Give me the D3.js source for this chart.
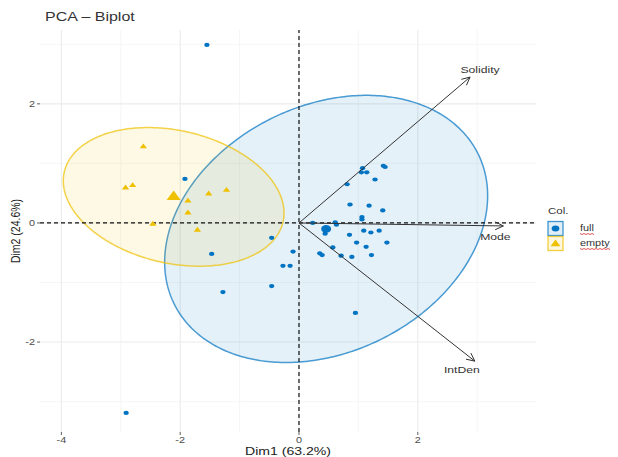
<!DOCTYPE html>
<html>
<head>
<meta charset="utf-8">
<script src="https://cdn.jsdelivr.net/npm/d3@7"></script>
<style>
  html, body { margin: 0; padding: 0; background: #fff; }
  svg { display: block; font-family: "Liberation Sans", Arial, Helvetica, sans-serif; }
</style>
</head>
<body>
<svg id="chart" width="618" height="457"></svg>
<script>
// Individuals (PCA scores), by group
const fullDim1 = [-1.55, -2.91, -1.92, -1.47, -0.46, -0.10, -0.27, -0.15, -1.28, -0.46,
                  0.95, 0.35, 0.39, 0.57, 0.71, 0.89, 0.97, 1.13, 1.22, 1.07,
                  1.14, 1.05, 1.42, 1.45, 1.28, 0.81, 0.86, 1.18, 1.41, 1.06,
                  1.06, 0.61, 0.63, 0.23, 0.44, 0.85, 1.09, 1.21, 1.35, 1.48];
const fullDim2 = [2.99, -3.19, 0.74, -0.52, -0.25, -0.48, -0.72, -0.72, -1.16, -1.06,
                  -1.51, -0.51, -0.54, -0.41, -0.55, -0.57, -0.33, -0.40, -0.54, 0.92,
                  0.85, 0.85, 0.96, 0.94, 0.73, 0.65, 0.31, 0.29, 0.21, 0.10,
                  0.06, 0.01, -0.03, 0.00, -0.18, -0.20, -0.13, -0.16, -0.13, -0.33];
const emptyDim1 = [-2.62, -2.92, -2.80, -1.87, -1.87, -1.52, -1.22, -2.46, -1.71];
const emptyDim2 = [1.28, 0.59, 0.63, 0.37, 0.17, 0.49, 0.55, -0.02, -0.12];

// Variables (loading arrows)
const varNames = ["Solidity", "Mode", "IntDen"];
const varDim1 = [2.88, 3.44, 2.96];
const varDim2 = [2.45, -0.05, -2.32];

// Groups and axis ticks
const groupNames = ["full", "empty"];
const groupColors = ["#0073C2", "#EFC000"];
const xTicks = [-4, -2, 0, 2];
const yTicks = [-2, 0, 2];
const xMinor = [-3, -1, 1, 3];
const yMinor = [-3, -1, 1, 3];

// The whole figure is drawn wider than tall: glyphs and markers get this horizontal stretch
const SX = 1.28;

const svg = d3.select("#chart");

const x = d3.scaleLinear().domain([-4.36, 3.99]).range([40, 536]);
const y = d3.scaleLinear().domain([-3.51, 3.24]).range([432, 30]);

// Text helper: anchor point, then horizontal stretch
function stretchedText(parent, px, py, str, opts) {
  return parent.append("text")
    .attr("transform", `translate(${px},${py}) scale(${SX},1)`)
    .attr("text-anchor", opts.anchor || "start")
    .attr("dy", opts.dy || null)
    .attr("font-size", opts.size)
    .attr("font-weight", opts.weight || null)
    .attr("fill", opts.fill || "#333")
    .text(str);
}

// Grid
const grid = svg.append("g");
grid.selectAll(".vmin").data(xMinor).join("line")
  .attr("x1", d => x(d)).attr("x2", d => x(d)).attr("y1", y.range()[0]).attr("y2", y.range()[1])
  .attr("stroke", "#f0f0f0").attr("stroke-width", 0.6);
grid.selectAll(".hmin").data(yMinor).join("line")
  .attr("y1", d => y(d)).attr("y2", d => y(d)).attr("x1", x.range()[0]).attr("x2", x.range()[1])
  .attr("stroke", "#f0f0f0").attr("stroke-width", 0.6);
grid.selectAll(".vmaj").data(xTicks).join("line")
  .attr("x1", d => x(d)).attr("x2", d => x(d)).attr("y1", y.range()[0]).attr("y2", y.range()[1])
  .attr("stroke", "#ebebeb").attr("stroke-width", 1.1);
grid.selectAll(".hmaj").data(yTicks).join("line")
  .attr("y1", d => y(d)).attr("y2", d => y(d)).attr("x1", x.range()[0]).attr("x2", x.range()[1])
  .attr("stroke", "#ebebeb").attr("stroke-width", 1.1);

// Groups
const groups = [
  { name: groupNames[0], color: groupColors[0], xs: fullDim1, ys: fullDim2, shape: "circle" },
  { name: groupNames[1], color: groupColors[1], xs: emptyDim1, ys: emptyDim2, shape: "triangle" }
];

// Normal-data ellipse, 95% level (same construction as ggplot2::stat_ellipse type = "norm")
function ellipsePath(xs, ys, level) {
  const n = xs.length;
  const mx = d3.mean(xs), my = d3.mean(ys);
  let sxx = 0, syy = 0, sxy = 0;
  for (let i = 0; i < n; i++) {
    const dx = xs[i] - mx, dy = ys[i] - my;
    sxx += dx * dx; syy += dy * dy; sxy += dx * dy;
  }
  sxx /= (n - 1); syy /= (n - 1); sxy /= (n - 1);
  // F quantile with 2 numerator df has a closed form
  const m = n - 1;
  const qf = (m / 2) * (Math.pow(1 - level, -2 / m) - 1);
  const r = Math.sqrt(2 * qf);
  // Cholesky factor of the covariance matrix
  const a = Math.sqrt(sxx), b = sxy / a, c = Math.sqrt(syy - b * b);
  const pts = d3.range(0, 361).map(k => {
    const t = k / 360 * 2 * Math.PI;
    const u = Math.cos(t), v = Math.sin(t);
    return [x(mx + r * (u * a + v * b)), y(my + r * (v * c))];
  });
  return d3.line()(pts) + "Z";
}

const ell = svg.append("g");
groups.forEach(g => {
  ell.append("path")
    .attr("d", ellipsePath(g.xs, g.ys, 0.95))
    .attr("fill", g.color).attr("fill-opacity", 0.1)
    .attr("stroke", g.color).attr("stroke-opacity", 0.7).attr("stroke-width", 1.5);
});

// Reference lines through the origin
svg.append("line")
  .attr("x1", x.range()[0]).attr("x2", x.range()[1]).attr("y1", y(0)).attr("y2", y(0))
  .attr("stroke", "#111").attr("stroke-width", 1.2).attr("stroke-dasharray", "4,3");
svg.append("line")
  .attr("x1", x(0)).attr("x2", x(0)).attr("y1", y.range()[0]).attr("y2", y.range()[1])
  .attr("stroke", "#111").attr("stroke-width", 1.2).attr("stroke-dasharray", "4,3");

// Individuals
const tri = d3.symbol().type(d3.symbolTriangle);
const pts = svg.append("g");
groups.forEach(g => {
  const data = g.xs.map((v, i) => [v, g.ys[i]]);
  if (g.shape === "circle") {
    pts.selectAll(null).data(data).join("ellipse")
      .attr("cx", d => x(d[0])).attr("cy", d => y(d[1])).attr("rx", 2.1 * SX).attr("ry", 2.1)
      .attr("fill", g.color);
    pts.append("ellipse")
      .attr("cx", x(d3.mean(g.xs))).attr("cy", y(d3.mean(g.ys))).attr("rx", 3.9 * SX).attr("ry", 3.9)
      .attr("fill", g.color);
  } else {
    pts.selectAll(null).data(data).join("path")
      .attr("d", tri.size(14)())
      .attr("transform", d => `translate(${x(d[0])},${y(d[1])}) scale(${SX},1)`)
      .attr("fill", g.color);
    pts.append("path")
      .attr("d", tri.size(52)())
      .attr("transform", `translate(${x(d3.mean(g.xs))},${y(d3.mean(g.ys))}) scale(${SX},1)`)
      .attr("fill", g.color);
  }
});

// Variable arrows
const arrows = svg.append("g");
const labelOffset = { Solidity: [10, -7], Mode: [-8, 11], IntDen: [-13, 9] };
varNames.forEach((name, i) => {
  const x0 = x(0), y0 = y(0), x1 = x(varDim1[i]), y1 = y(varDim2[i]);
  const ang = Math.atan2(y1 - y0, x1 - x0);
  const hl = 9, ha = Math.PI / 7;
  arrows.append("line")
    .attr("x1", x0).attr("y1", y0).attr("x2", x1).attr("y2", y1)
    .attr("stroke", "#333").attr("stroke-width", 1);
  arrows.append("path")
    .attr("d", `M${x1 - hl * Math.cos(ang - ha)},${y1 - hl * Math.sin(ang - ha)}L${x1},${y1}L${x1 - hl * Math.cos(ang + ha)},${y1 - hl * Math.sin(ang + ha)}`)
    .attr("fill", "none").attr("stroke", "#333").attr("stroke-width", 1);
  const off = labelOffset[name];
  stretchedText(arrows, x1 + off[0], y1 + off[1], name,
    { anchor: "middle", dy: "0.35em", size: 9.5, fill: "#333" });
});

// Axes: ticks and labels
const axis = svg.append("g");
xTicks.forEach(t => {
  axis.append("line").attr("x1", x(t)).attr("x2", x(t)).attr("y1", 432).attr("y2", 435)
    .attr("stroke", "#333").attr("stroke-width", 0.8);
  stretchedText(axis, x(t), 443, t, { anchor: "middle", size: 8.5, fill: "#4d4d4d" });
});
yTicks.forEach(t => {
  axis.append("line").attr("x1", 37).attr("x2", 40).attr("y1", y(t)).attr("y2", y(t))
    .attr("stroke", "#333").attr("stroke-width", 0.8);
  stretchedText(axis, 35, y(t), t, { anchor: "end", dy: "0.35em", size: 8.5, fill: "#4d4d4d" });
});

const panelMidX = (x.range()[0] + x.range()[1]) / 2;
const panelMidY = (y.range()[0] + y.range()[1]) / 2;
stretchedText(svg, panelMidX, 455, "Dim1 (63.2%)", { anchor: "middle", size: 11, fill: "#222" });
svg.append("text")
  .attr("transform", `translate(20,${panelMidY}) scale(${SX},1) rotate(-90)`)
  .attr("text-anchor", "middle").attr("font-size", 10.5).attr("fill", "#222")
  .text("Dim2 (24.6%)");

// Title
stretchedText(svg, 45, 21, "PCA – Biplot", { size: 12.5, fill: "#333" });

// Legend
const leg = svg.append("g").attr("transform", "translate(548,206)");
stretchedText(leg, 0, 8, "Col.", { size: 9, fill: "#333" });
groups.forEach((g, i) => {
  const gy = 15.5 + i * 15;
  leg.append("rect").attr("x", 0).attr("y", gy).attr("width", 15).attr("height", 14)
    .attr("fill", g.color).attr("fill-opacity", 0.12)
    .attr("stroke", g.color).attr("stroke-opacity", 0.75).attr("stroke-width", 1.3);
  if (g.shape === "circle") {
    leg.append("ellipse").attr("cx", 7.5).attr("cy", gy + 7).attr("rx", 3 * SX).attr("ry", 3)
      .attr("fill", g.color);
  } else {
    leg.append("path").attr("d", tri.size(26)())
      .attr("transform", `translate(7.5,${gy + 7.5}) scale(${SX},1)`)
      .attr("fill", g.color);
  }
  const label = stretchedText(leg, 32, gy + 7, g.name, { dy: "0.35em", size: 8.5, fill: "#333" });
  const w = label.node().getComputedTextLength() * SX;
  // wavy underline under the legend label
  const wave = d3.range(0, Math.ceil(w / 2) + 1).map(k => [32 + k * 2, gy + 12 + (k % 2 ? 1 : 0)]);
  leg.append("path").attr("d", d3.line()(wave)).attr("fill", "none")
    .attr("stroke", "#d42a2a").attr("stroke-width", 0.8);
});
</script>
</body>
</html>
